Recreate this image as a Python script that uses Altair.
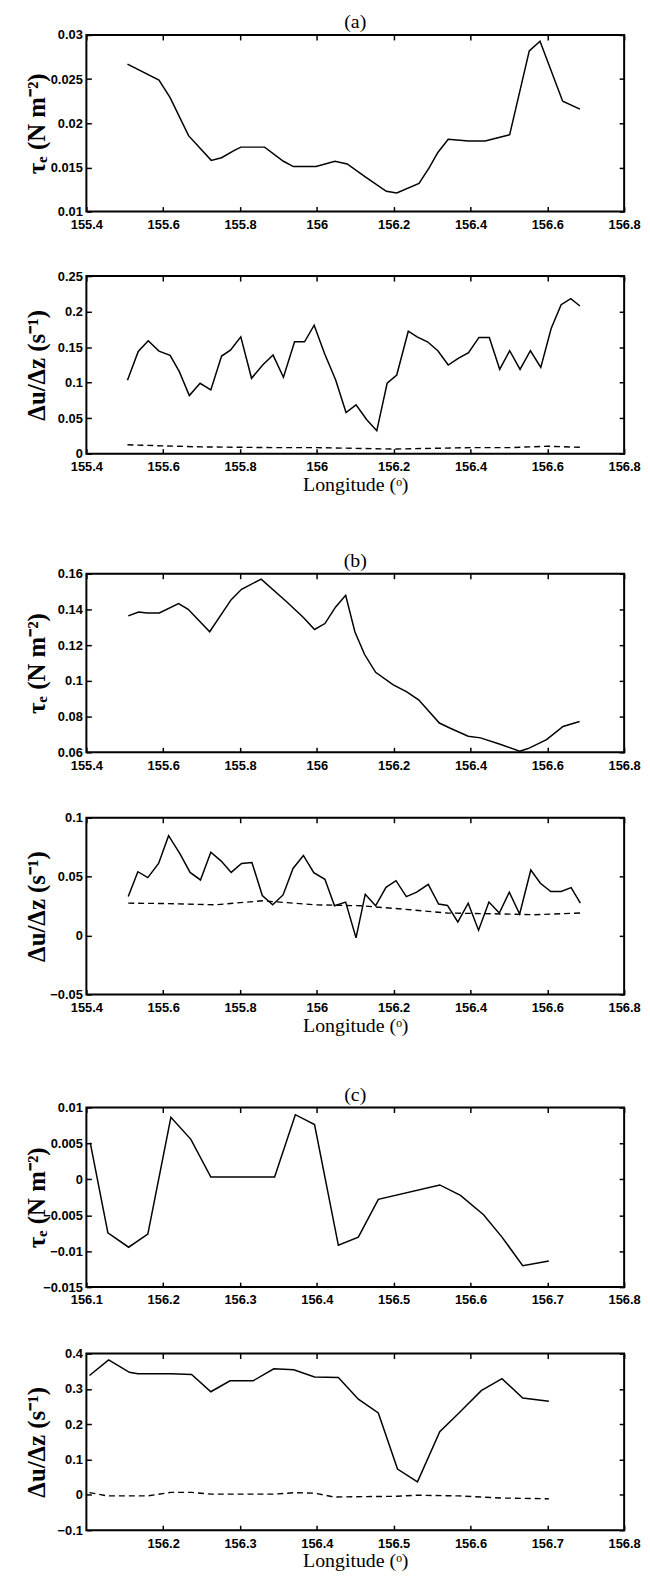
import altair as alt
import pandas as pd

# ---------------- data ----------------
# (a) stress
a_tau_lon = [155.507, 155.589, 155.618, 155.666, 155.725, 155.752, 155.784, 155.802, 155.864, 155.913,
             155.939, 155.998, 156.047, 156.079, 156.127, 156.181, 156.208, 156.266, 156.293, 156.315,
             156.342, 156.395, 156.438, 156.502, 156.553, 156.581, 156.640, 156.685]
a_tau_val = [0.0267, 0.0249, 0.0229, 0.0186, 0.0158, 0.0161, 0.0169, 0.0173, 0.0173, 0.0157,
             0.0151, 0.0151, 0.0157, 0.0154, 0.0139, 0.0123, 0.0121, 0.0132, 0.0150, 0.0167,
             0.0182, 0.0180, 0.0180, 0.0187, 0.0282, 0.0293, 0.0225, 0.0216]
# (a) shear
a_sh_lon = [155.507, 155.535, 155.561, 155.589, 155.618, 155.642, 155.668, 155.696, 155.724, 155.752,
            155.775, 155.802, 155.830, 155.859, 155.886, 155.913, 155.942, 155.968, 155.993, 156.020,
            156.049, 156.076, 156.102, 156.130, 156.156, 156.183, 156.208, 156.238, 156.261, 156.288,
            156.315, 156.342, 156.368, 156.395, 156.422, 156.449, 156.476, 156.502, 156.529, 156.556,
            156.583, 156.610, 156.636, 156.661, 156.685]
a_sh_val = [0.1033, 0.1439, 0.1589, 0.1444, 0.1383, 0.1154, 0.0818, 0.0991, 0.0897, 0.1374,
            0.1458, 0.1645, 0.1061, 0.1248, 0.1388, 0.1075, 0.1575, 0.1575, 0.1808, 0.1411,
            0.1037, 0.0579, 0.0687, 0.0477, 0.0322, 0.0991, 0.1107, 0.1724, 0.1645, 0.1575,
            0.1449, 0.1248, 0.1341, 0.1421, 0.1636, 0.1636, 0.1187, 0.1449, 0.1187, 0.1449,
            0.1215, 0.1762, 0.2098, 0.2182, 0.2079]
a_shd_lon = [155.507, 155.6, 155.7, 155.8, 155.9, 156.0, 156.1, 156.2, 156.3, 156.4, 156.5, 156.6, 156.685]
a_shd_val = [0.0125, 0.011, 0.0095, 0.009, 0.0085, 0.0085, 0.0075, 0.0065, 0.0075, 0.0085, 0.0085, 0.0105, 0.009]

# (b) stress
b_tau_lon = [155.509, 155.536, 155.558, 155.590, 155.640, 155.665, 155.721, 155.777, 155.804, 155.855,
             155.922, 155.965, 155.994, 156.021, 156.049, 156.075, 156.099, 156.124, 156.153, 156.199,
             156.233, 156.265, 156.319, 156.346, 156.394, 156.426, 156.475, 156.528, 156.550, 156.598,
             156.641, 156.684]
b_tau_val = [0.1364, 0.1386, 0.1380, 0.1380, 0.1433, 0.1401, 0.1275, 0.1455, 0.1513, 0.1570,
             0.1442, 0.1355, 0.1288, 0.1321, 0.1414, 0.1479, 0.1275, 0.1149, 0.1048, 0.0978,
             0.0940, 0.0894, 0.0764, 0.0736, 0.0690, 0.0681, 0.0647, 0.0606, 0.0621, 0.0671,
             0.0745, 0.0773]
# (b) shear
b_sh_lon = [155.509, 155.534, 155.560, 155.588, 155.614, 155.643, 155.670, 155.697, 155.724, 155.751,
            155.777, 155.804, 155.831, 155.858, 155.885, 155.912, 155.938, 155.965, 155.992, 156.021,
            156.046, 156.075, 156.102, 156.126, 156.153, 156.180, 156.206, 156.233, 156.260, 156.290,
            156.317, 156.340, 156.367, 156.394, 156.421, 156.448, 156.475, 156.501, 156.528, 156.557,
            156.582, 156.609, 156.636, 156.662, 156.686]
b_sh_val = [0.0331, 0.0542, 0.0492, 0.0612, 0.0848, 0.0697, 0.0536, 0.0472, 0.0708, 0.0632,
            0.0536, 0.0612, 0.0621, 0.0340, 0.0261, 0.0345, 0.0570, 0.0680, 0.0534, 0.0478,
            0.0253, 0.0284, -0.0020, 0.0351, 0.0253, 0.0410, 0.0466, 0.0331, 0.0368, 0.0435,
            0.0267, 0.0256, 0.0115, 0.0275, 0.0045, 0.0284, 0.0191, 0.0368, 0.0183, 0.0556,
            0.0444, 0.0374, 0.0374, 0.0407, 0.0275]
b_shd_lon = [155.509, 155.6, 155.735, 155.858, 155.997, 156.115, 156.244, 156.340, 156.458, 156.565, 156.686]
b_shd_val = [0.0275, 0.0272, 0.0261, 0.0295, 0.0261, 0.0253, 0.0219, 0.0191, 0.0185, 0.0177, 0.0191]

# (c) stress
c_tau_lon = [156.105, 156.128, 156.155, 156.180, 156.210, 156.236, 156.262, 156.312, 156.345, 156.372,
             156.397, 156.428, 156.454, 156.480, 156.560, 156.587, 156.617, 156.641, 156.668, 156.702]
c_tau_val = [0.00511, -0.00744, -0.00945, -0.00763, 0.00863, 0.00557, 0.00032, 0.00032, 0.00032, 0.00900,
             0.00763, -0.00918, -0.00804, -0.00279, -0.00078, -0.00224, -0.00493, -0.00804, -0.01201, -0.01137]
# (c) shear
c_sh_lon = [156.104, 156.129, 156.156, 156.167, 156.210, 156.237, 156.262, 156.287, 156.317, 156.344,
            156.370, 156.397, 156.428, 156.454, 156.480, 156.505, 156.531, 156.560, 156.585, 156.614,
            156.641, 156.668, 156.702]
c_sh_val = [0.338, 0.382, 0.347, 0.343, 0.343, 0.341, 0.292, 0.323, 0.323, 0.357,
            0.354, 0.334, 0.332, 0.271, 0.232, 0.073, 0.037, 0.179, 0.232, 0.295,
            0.329, 0.274, 0.265]
c_shd_lon = [156.104, 156.127, 156.180, 156.210, 156.237, 156.263, 156.344, 156.370, 156.397, 156.422,
             156.504, 156.531, 156.585, 156.641, 156.702]
c_shd_val = [0.0065, -0.003, -0.003, 0.007, 0.007, 0.002, 0.002, 0.006, 0.005, -0.006,
             -0.004, -0.001, -0.003, -0.009, -0.011]

# axis ticks
ab_xticks = [155.4, 155.6, 155.8, 156.0, 156.2, 156.4, 156.6, 156.8]
c1_xticks = [156.1, 156.2, 156.3, 156.4, 156.5, 156.6, 156.7, 156.8]
c2_xticks = [156.2, 156.3, 156.4, 156.5, 156.6, 156.7, 156.8]
a1_yticks = [0.01, 0.015, 0.02, 0.025, 0.03]
a2_yticks = [0.0, 0.05, 0.1, 0.15, 0.2, 0.25]
b1_yticks = [0.06, 0.08, 0.1, 0.12, 0.14, 0.16]
b2_yticks = [-0.05, 0.0, 0.05, 0.1]
c1_yticks = [-0.015, -0.01, -0.005, 0.0, 0.005, 0.01]
c2_yticks = [-0.1, 0.0, 0.1, 0.2, 0.3, 0.4]

TAU_TITLE = "τₑ (N m⁻²)"
SHEAR_TITLE = "Δu/Δz (s⁻¹)"
LON_TITLE = "Longitude (ᵒ)"

SANS = "Liberation Sans"
SERIF = "Liberation Serif"
W = 542


def panel(lon, val, xdom, xticks, ydom, yticks, yfmt, ytitle, h,
          dlon=None, dval=None, title=None, xtitle=None):
    df = pd.DataFrame({"lon": lon, "v": val})
    xs = alt.Scale(domain=xdom, nice=False, zero=False)
    ys = alt.Scale(domain=ydom, nice=False, zero=False)
    common = dict(offset=-5, tickSize=5, domain=False, grid=False, tickColor="black",
                  tickWidth=1.5, labelFlush=False, labelOverlap=False, minExtent=0)
    xb = alt.X("lon:Q", scale=xs, axis=alt.Axis(
        orient="bottom", values=xticks, format=".1~f", labelPadding=7,
        title=xtitle, titleFont=SERIF, titleFontSize=20, titleFontWeight="normal",
        titlePadding=1, titleColor="black", **common))
    yl = alt.Y("v:Q", scale=ys, axis=alt.Axis(
        orient="left", values=yticks, format=yfmt, labelPadding=4,
        title=ytitle, titleFont=SERIF, titleFontSize=25, titleFontWeight="bold",
        titleX=-42, titleColor="black", **common))
    xt = alt.X("lon:Q", scale=xs, axis=alt.Axis(
        orient="top", values=xticks, labels=False, title=None, **common))
    yr = alt.Y("v:Q", scale=ys, axis=alt.Axis(
        orient="right", values=yticks, labels=False, title=None, **common))
    solid = alt.Chart(df).mark_line(color="black", strokeWidth=1.5).encode(x=xb, y=yl)
    ghost = alt.Chart(df).mark_line(opacity=0).encode(x=xt, y=yr)
    layers = [solid, ghost]
    if dlon is not None:
        dd = pd.DataFrame({"lon": dlon, "v": dval})
        dashed = alt.Chart(dd).mark_line(color="black", strokeWidth=1.4, strokeDash=[6, 4]).encode(
            x=alt.X("lon:Q", scale=xs, axis=None), y=alt.Y("v:Q", scale=ys, axis=None))
        layers.append(dashed)
    ch = alt.layer(*layers).resolve_axis(x="independent", y="independent")
    props = dict(width=W, height=h)
    if title:
        props["title"] = alt.TitleParams(text=title, font=SERIF, fontSize=20, fontWeight="normal",
                                         color="black", offset=-3, anchor="middle")
    return ch.properties(**props)


def spacer(h):
    return alt.Chart(pd.DataFrame({"s": [0]})).mark_point(opacity=0).encode(
        x=alt.value(0), y=alt.value(0)).properties(
        width=W, height=h, view=alt.ViewBackground(strokeOpacity=0))


ab_dom = [155.4, 156.8]
c_dom = [156.1, 156.8]

a1 = panel(a_tau_lon, a_tau_val, ab_dom, ab_xticks, [0.01, 0.03], a1_yticks, ".3~f", TAU_TITLE, 178, title="(a)")
a2 = panel(a_sh_lon, a_sh_val, ab_dom, ab_xticks, [0, 0.25], a2_yticks, ".2~f", SHEAR_TITLE, 179,
           dlon=a_shd_lon, dval=a_shd_val, xtitle=LON_TITLE)
b1 = panel(b_tau_lon, b_tau_val, ab_dom, ab_xticks, [0.06, 0.16], b1_yticks, ".2~f", TAU_TITLE, 180, title="(b)")
b2 = panel(b_sh_lon, b_sh_val, ab_dom, ab_xticks, [-0.05, 0.1], b2_yticks, ".2~f", SHEAR_TITLE, 178,
           dlon=b_shd_lon, dval=b_shd_val, xtitle=LON_TITLE)
c1 = panel(c_tau_lon, c_tau_val, c_dom, c1_xticks, [-0.015, 0.01], c1_yticks, ".3~f", TAU_TITLE, 181, title="(c)")
c2 = panel(c_sh_lon, c_sh_val, c_dom, c2_xticks, [-0.1, 0.4], c2_yticks, ".1~f", SHEAR_TITLE, 178,
           dlon=c_shd_lon, dval=c_shd_val, xtitle=LON_TITLE)

chart = alt.vconcat(
    a1, spacer(65), a2, spacer(121), b1, spacer(66), b2, spacer(114), c1, spacer(67), c2,
    spacing=0, bounds="flush"
).properties(
    padding={"left": 16, "top": -3, "right": 0, "bottom": 0},
    background="white",
).configure_view(
    stroke="black", strokeWidth=2
).configure_axis(
    labelFont=SANS, labelFontSize=13, labelFontWeight="bold", labelColor="black"
)

chart.save("out.html", embed_options={"renderer": "svg", "actions": False})
